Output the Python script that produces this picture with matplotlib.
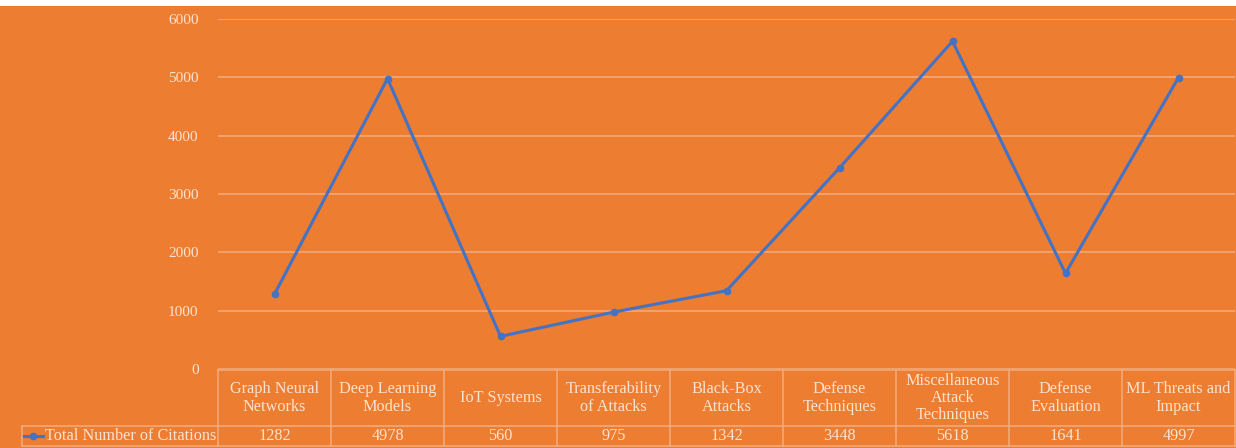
import matplotlib.pyplot as plt
from matplotlib.lines import Line2D
from matplotlib.transforms import blended_transform_factory

categories = ["Graph Neural\nNetworks", "Deep Learning\nModels", "IoT Systems",
              "Transferability\nof Attacks", "Black-Box\nAttacks", "Defense\nTechniques",
              "Miscellaneous\nAttack\nTechniques", "Defense\nEvaluation", "ML Threats and\nImpact"]
citations = [1282, 4978, 560, 975, 1342, 3448, 5618, 1641, 4997]
series_name = "Total Number of Citations"
y_ticks = [0, 1000, 2000, 3000, 4000, 5000, 6000]

W, H = 1236, 448
ORANGE = "#ED7D31"
BLUE = "#4472C4"
GRID = "#F3AD7E"
TEXT = "#FBE3D2"

plt.rcParams["font.family"] = ["Liberation Serif", "DejaVu Serif"]

fig = plt.figure(figsize=(W / 100, H / 100), dpi=100, facecolor=ORANGE)
# thin white strip along the top edge
fig.add_artist(plt.Rectangle((0, 1 - 6 / H), 1, 6 / H, transform=fig.transFigure,
                             facecolor="white", edgecolor="none"))

def fy(py):
    return 1 - py / H

def fx(px):
    return px / W

ax = fig.add_axes([fx(218), fy(369), fx(1235) - fx(218), fy(19) - fy(369)])
ax.set_facecolor(ORANGE)
for s in ax.spines.values():
    s.set_visible(False)

x = list(range(len(citations)))
ax.plot(x, citations, color=BLUE, lw=2.2, marker="o", ms=4.5, zorder=3)
ax.set_xlim(-0.5, len(citations) - 0.5)
ax.set_ylim(0, 6000)
ax.set_yticks(y_ticks)
ax.set_yticklabels([str(t) for t in y_ticks], color=TEXT, fontsize=11)
ax.tick_params(axis="y", length=0, pad=14)
ax.set_xticks([])
ax.grid(axis="y", color=GRID, lw=1.1)
ax.set_axisbelow(True)

# data table below the plot
tr = blended_transform_factory(ax.transData, fig.transFigure)
n = len(citations)
top, mid, bot = fy(370), fy(426), fy(446)
line_kw = dict(color=GRID, lw=1.1)
fig.add_artist(Line2D([-0.5, n - 0.5], [top, top], transform=tr, **line_kw))
for yy in (mid, bot):
    fig.add_artist(Line2D([fx(22), fx(218)], [yy, yy], transform=fig.transFigure, **line_kw))
    fig.add_artist(Line2D([-0.5, n - 0.5], [yy, yy], transform=tr, **line_kw))
for i in range(n + 1):
    fig.add_artist(Line2D([i - 0.5, i - 0.5], [top, bot], transform=tr, **line_kw))
fig.add_artist(Line2D([fx(22), fx(22)], [mid, bot], transform=fig.transFigure, **line_kw))

for i, (cat, val) in enumerate(zip(categories, citations)):
    fig.text(i, fy(398), cat, transform=tr, ha="center", va="center",
             color=TEXT, fontsize=11.7, linespacing=1.12)
    fig.text(i, fy(436), str(val), transform=tr, ha="center", va="center",
             color=TEXT, fontsize=11.7)

# legend key in the row header
fig.add_artist(Line2D([fx(24), fx(43)], [fy(436), fy(436)], transform=fig.transFigure,
                      color=BLUE, lw=2.2))
fig.add_artist(Line2D([fx(33)], [fy(436)], transform=fig.transFigure,
                      color=BLUE, marker="o", ms=4.5))
fig.text(fx(45), fy(436), series_name, ha="left", va="center", color=TEXT, fontsize=11.7)

fig.savefig("out.png", dpi=100, facecolor=ORANGE)
